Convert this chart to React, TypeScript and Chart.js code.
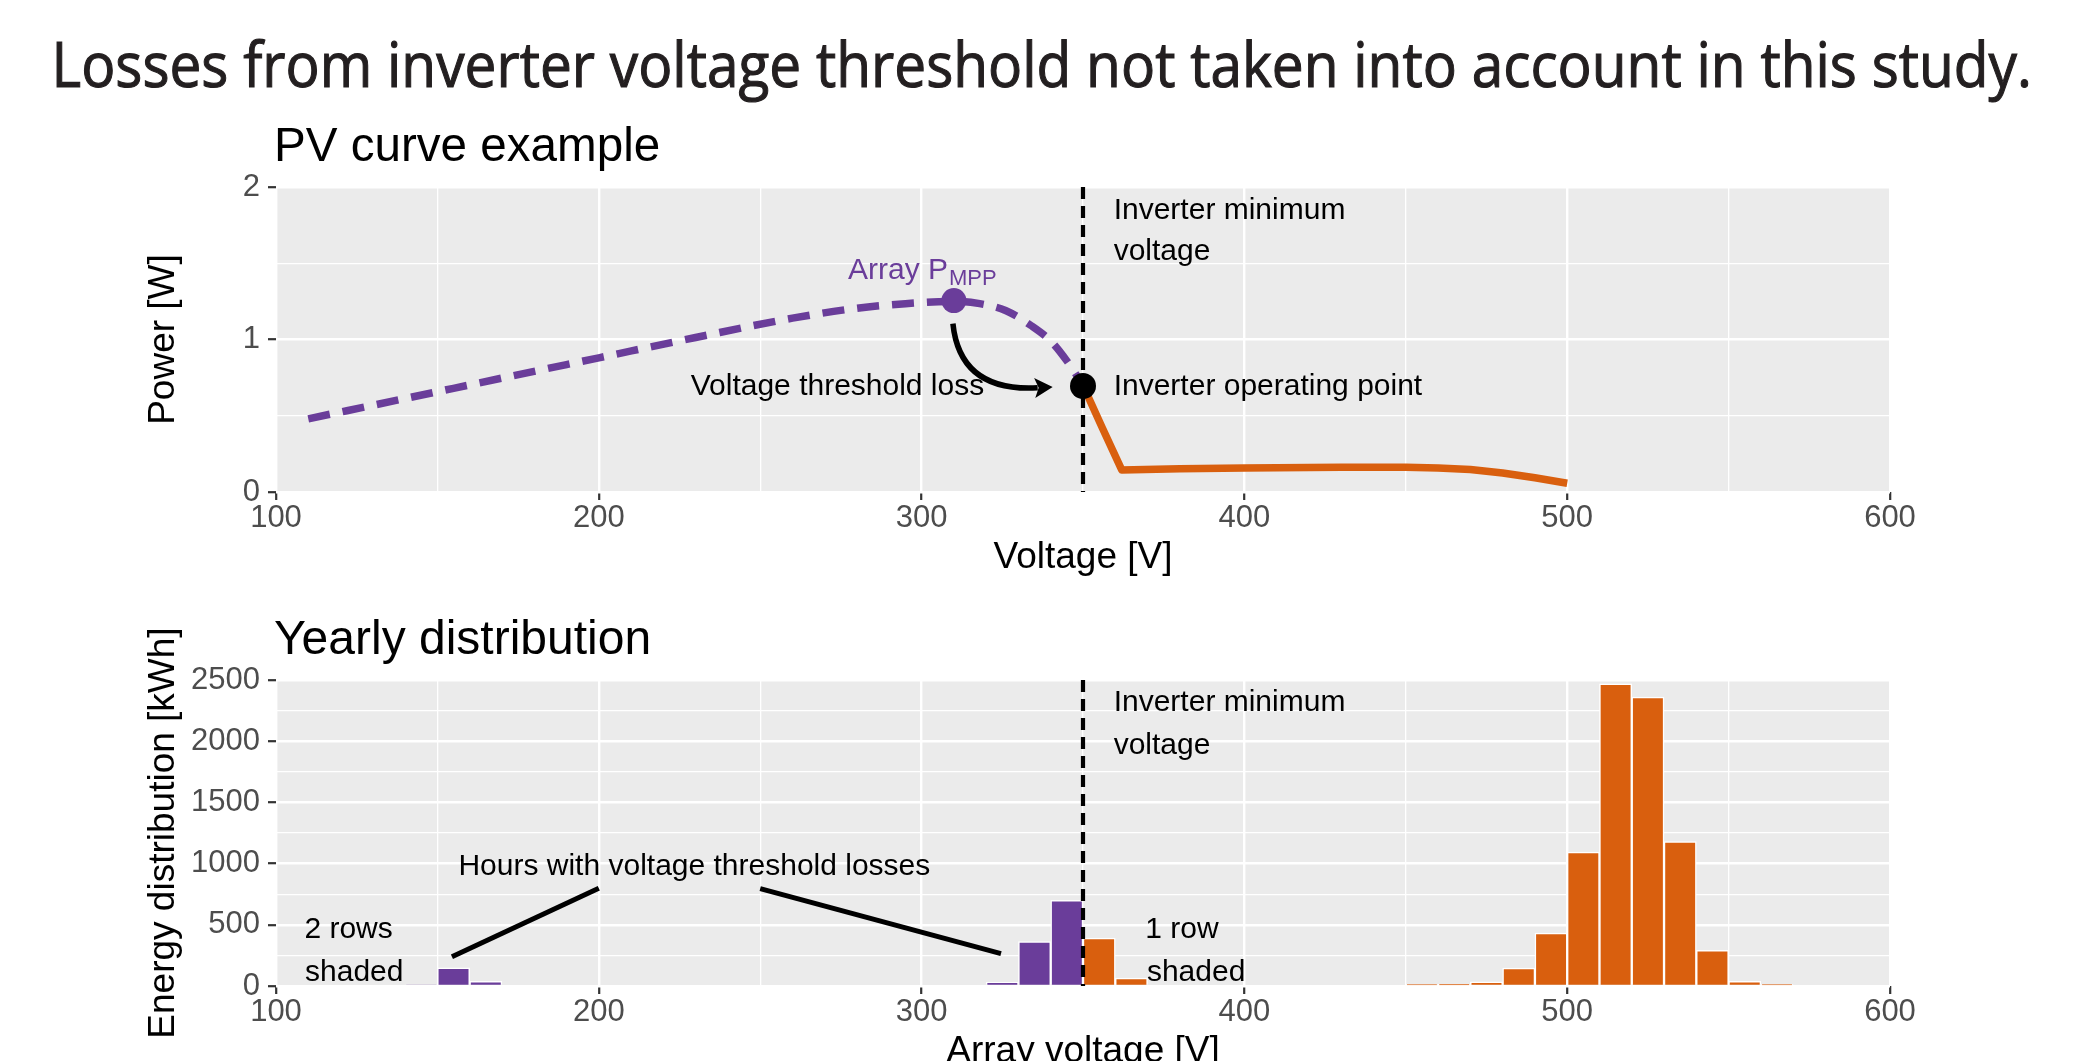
import React, { useEffect, useRef } from "react";
import { Chart, registerables } from "chart.js";

Chart.register(...registerables);

// ---------------- text ----------------
const mainTitle = "Losses from inverter voltage threshold not taken into account in this study.";
const topPanelTitle = "PV curve example";
const bottomPanelTitle = "Yearly distribution";
const topXTitle = "Voltage [V]";
const topYTitle = "Power [W]";
const bottomXTitle = "Array voltage [V]";
const bottomYTitle = "Energy distribution [kWh]";

// ---------------- tick labels ----------------
const xTickLabels = [100, 200, 300, 400, 500, 600];
const topYTickLabels = [0, 1, 2];
const bottomYTickLabels = [0, 500, 1000, 1500, 2000, 2500];

// ---------------- data: PV curve example ----------------
const inverterMinVoltage = 350;
const pvCurveVoltage = [110, 140, 170, 200, 230, 260, 280, 295, 310, 318, 326, 334, 340, 345, 350];
const pvCurvePower = [0.48, 0.613, 0.747, 0.88, 1.013, 1.14, 1.205, 1.235, 1.25, 1.235, 1.19, 1.09, 0.99, 0.86, 0.7];
const inverterCurveVoltage = [350, 356, 362, 380, 400, 430, 450, 460, 470, 480, 490, 500];
const inverterCurvePower = [0.7, 0.42, 0.145, 0.152, 0.157, 0.162, 0.163, 0.158, 0.148, 0.125, 0.093, 0.057];
const mppPoint = [310, 1.255];
const operatingPoint = [350, 0.695];

// ---------------- data: yearly distribution (10 V bins) ----------------
const binCenters = [145, 155, 165, 325, 335, 345, 355, 365, 455, 465, 475, 485, 495, 505, 515, 525, 535, 545, 555, 565];
const binEnergy = [10, 148, 38, 32, 363, 700, 392, 65, 12, 14, 35, 146, 432, 1095, 2468, 2360, 1180, 292, 38, 12];

// ---------------- annotations (data coordinates) ----------------
const topNotes = [
  { text: "Inverter minimum", x: 359.5, y: 1.847, align: "left" },
  { text: "voltage", x: 359.5, y: 1.576, align: "left" },
  { text: "Inverter operating point", x: 359.5, y: 0.687, align: "left" },
  { text: "Voltage threshold loss", x: 319.4, y: 0.687, align: "right" },
];
const mppLabel = { main: "Array P", sub: "MPP", x: 277.2, y: 1.4 };
const lossArrow = { from: [309.7, 1.104], ctrl: [311.9, 0.654], to: [340.6, 0.689] };

const bottomNotes = [
  { text: "Inverter minimum", x: 359.5, y: 2313, align: "left" },
  { text: "voltage", x: 359.5, y: 1966, align: "left" },
  { text: "Hours with voltage threshold losses", x: 229.6, y: 975, align: "center" },
  { text: "2 rows", x: 108.8, y: 458, align: "left" },
  { text: "shaded", x: 109, y: 112, align: "left" },
  { text: "1 row", x: 369.3, y: 456, align: "left" },
  { text: "shaded", x: 369.8, y: 112, align: "left" },
];
const hoursLines = [
  [[200, 798], [154.5, 239]],
  [[250, 796], [324.6, 265]],
];

// ---------------- styles ----------------
const PURPLE = "#6A3D9A";
const ORANGE = "#D95F0E";
const PANEL_BG = "#EBEBEB";
const TICK_TEXT = "#4D4D4D";
const TICK_MARK = "#333333";
const SANS = '"Liberation Sans", Arial, sans-serif';

function gridOpts(major: number[]) {
  return {
    color: "#FFFFFF",
    lineWidth: (c: any) => (c.tick && major.includes(c.tick.value) ? 2.4 : 1.3),
    drawTicks: true,
    tickLength: 8,
    tickWidth: 2.2,
    tickColor: (c: any) => (c.tick && major.includes(c.tick.value) ? TICK_MARK : "rgba(0,0,0,0)"),
  };
}

function xScale(height: number) {
  return {
    type: "linear",
    min: 100,
    max: 600,
    offset: false,
    border: { display: false },
    grid: { ...gridOpts(xTickLabels), offset: false },
    ticks: {
      stepSize: 50,
      autoSkip: false,
      maxRotation: 0,
      padding: 3,
      color: TICK_TEXT,
      font: { family: SANS, size: 31, lineHeight: 1 },
      callback: (v: any) => (xTickLabels.includes(Number(v)) ? String(v) : ""),
    },
    afterFit: (s: any) => {
      s.height = height;
    },
  };
}

function yScale(max: number, step: number, labels: number[]) {
  return {
    type: "linear",
    min: 0,
    max,
    border: { display: false },
    grid: gridOpts(labels),
    ticks: {
      stepSize: step,
      autoSkip: false,
      padding: 8,
      color: TICK_TEXT,
      font: { family: SANS, size: 31, lineHeight: 1 },
      callback: (v: any) => (labels.includes(Number(v)) ? String(v) : ""),
    },
    afterFit: (s: any) => {
      s.width = 276;
    },
  };
}

function text(ctx: CanvasRenderingContext2D, t: string, x: number, y: number, size: number, color: string, align: any = "left", baseline: any = "middle") {
  ctx.save();
  ctx.font = `${size}px ${SANS}`;
  ctx.fillStyle = color;
  ctx.textAlign = align;
  ctx.textBaseline = baseline;
  ctx.fillText(t, x, y);
  ctx.restore();
}

function axisTitles(chart: any, xt: string, yt: string) {
  const { ctx, chartArea: a } = chart;
  text(ctx, xt, (a.left + a.right) / 2, a.bottom + 66, 37, "#000", "center");
  ctx.save();
  ctx.translate(164, (a.top + a.bottom) / 2);
  ctx.rotate(-Math.PI / 2);
  text(ctx, yt, 0, 0, 37, "#000", "center");
  ctx.restore();
}

const panelBg = {
  id: "panelBg",
  beforeDraw(chart: any) {
    const { ctx, chartArea: a } = chart;
    ctx.save();
    ctx.fillStyle = PANEL_BG;
    ctx.fillRect(a.left, a.top, a.right - a.left, a.bottom - a.top);
    ctx.restore();
  },
};

const topDecor = {
  id: "topDecor",
  afterDraw(chart: any) {
    const { ctx, chartArea: a, scales } = chart;
    const X = (v: number) => scales.x.getPixelForValue(v);
    const Y = (v: number) => scales.y.getPixelForValue(v);

    // main title (condensed to match width)
    ctx.save();
    ctx.font = `62px "Open Sans", sans-serif`;
    ctx.textAlign = "left";
    ctx.textBaseline = "alphabetic";
    const m = ctx.measureText(mainTitle);
    const inkL = -m.actualBoundingBoxLeft;
    const inkW = m.actualBoundingBoxRight - inkL;
    const s = 1971 / inkW;
    ctx.translate(57 - inkL * s, 87);
    ctx.scale(s, 1);
    ctx.fillStyle = "#231F20";
    ctx.strokeStyle = "#231F20";
    ctx.lineWidth = 1.1;
    ctx.fillText(mainTitle, 0, 0);
    ctx.strokeText(mainTitle, 0, 0);
    ctx.restore();

    text(ctx, topPanelTitle, a.left - 2, a.top - 26.4, 47.6, "#000", "left", "alphabetic");
    axisTitles(chart, topXTitle, topYTitle);

    topNotes.forEach((n) => text(ctx, n.text, X(n.x), Y(n.y), 30, "#000", n.align));

    // Array P_MPP label
    ctx.save();
    ctx.font = `30px ${SANS}`;
    const wMain = ctx.measureText(mppLabel.main).width;
    ctx.restore();
    text(ctx, mppLabel.main, X(mppLabel.x), Y(mppLabel.y), 30, PURPLE, "left", "alphabetic");
    text(ctx, mppLabel.sub, X(mppLabel.x) + wMain + 1, Y(mppLabel.y) + 6, 22, PURPLE, "left", "alphabetic");

    // curved arrow
    const p0 = [X(lossArrow.from[0]), Y(lossArrow.from[1])];
    const pc = [X(lossArrow.ctrl[0]), Y(lossArrow.ctrl[1])];
    const p2 = [X(lossArrow.to[0]), Y(lossArrow.to[1])];
    const ang = Math.atan2(p2[1] - pc[1], p2[0] - pc[0]);
    const headLen = 18;
    const headW = 10;
    const base = [p2[0] - headLen * Math.cos(ang), p2[1] - headLen * Math.sin(ang)];
    ctx.save();
    ctx.strokeStyle = "#000";
    ctx.fillStyle = "#000";
    ctx.lineWidth = 5.5;
    ctx.lineCap = "butt";
    ctx.beginPath();
    ctx.moveTo(p0[0], p0[1]);
    ctx.quadraticCurveTo(pc[0], pc[1], base[0] + 3 * Math.cos(ang), base[1] + 3 * Math.sin(ang));
    ctx.stroke();
    ctx.beginPath();
    ctx.moveTo(p2[0], p2[1]);
    ctx.lineTo(base[0] - headW * Math.sin(ang), base[1] + headW * Math.cos(ang));
    ctx.lineTo(base[0] + 4 * Math.cos(ang), base[1] + 4 * Math.sin(ang));
    ctx.lineTo(base[0] + headW * Math.sin(ang), base[1] - headW * Math.cos(ang));
    ctx.closePath();
    ctx.fill();
    ctx.restore();
  },
};

const bottomDecor = {
  id: "bottomDecor",
  afterDraw(chart: any) {
    const { ctx, chartArea: a, scales } = chart;
    const X = (v: number) => scales.x.getPixelForValue(v);
    const Y = (v: number) => scales.y.getPixelForValue(v);
    text(ctx, bottomPanelTitle, a.left - 2, a.top - 26.4, 48, "#000", "left", "alphabetic");
    axisTitles(chart, bottomXTitle, bottomYTitle);
    bottomNotes.forEach((n) => text(ctx, n.text, X(n.x), Y(n.y), 30, "#000", n.align));
    ctx.save();
    ctx.strokeStyle = "#000";
    ctx.lineWidth = 5;
    hoursLines.forEach(([p, q]) => {
      ctx.beginPath();
      ctx.moveTo(X(p[0]), Y(p[1]));
      ctx.lineTo(X(q[0]), Y(q[1]));
      ctx.stroke();
    });
    ctx.restore();
  },
};

const vline = (top: number) => ({
  type: "line",
  label: "Inverter minimum voltage",
  data: [
    { x: inverterMinVoltage, y: top },
    { x: inverterMinVoltage, y: 0 },
  ],
  borderColor: "#000",
  borderWidth: 4.2,
  borderDash: [12, 7],
  pointRadius: 0,
  fill: false,
  order: 1,
});

const W = 2099;

export default function App() {
  const topRef = useRef<HTMLCanvasElement>(null);
  const botRef = useRef<HTMLCanvasElement>(null);

  useEffect(() => {
    const common = {
      animation: false,
      responsive: false,
      maintainAspectRatio: false,
      devicePixelRatio: 1,
      events: [],
      plugins: { legend: { display: false }, tooltip: { enabled: false }, title: { display: false } },
    };

    const top = new Chart(topRef.current as HTMLCanvasElement, {
      type: "line",
      data: {
        datasets: [
          {
            label: "PV curve",
            data: pvCurveVoltage.map((v, i) => ({ x: v, y: pvCurvePower[i] })),
            borderColor: PURPLE,
            borderWidth: 7.5,
            borderDash: [22, 13],
            borderCapStyle: "butt",
            pointRadius: 0,
            cubicInterpolationMode: "monotone",
            fill: false,
            order: 5,
          },
          {
            label: "Inverter curve",
            data: inverterCurveVoltage.map((v, i) => ({ x: v, y: inverterCurvePower[i] })),
            borderColor: ORANGE,
            borderWidth: 7.5,
            borderJoinStyle: "round",
            pointRadius: 0,
            tension: 0,
            fill: false,
            order: 4,
          },
          { ...vline(2), order: 3 },
          {
            label: "Array PMPP",
            data: [{ x: mppPoint[0], y: mppPoint[1] }],
            showLine: false,
            pointRadius: 12.5,
            pointBackgroundColor: PURPLE,
            pointBorderColor: PURPLE,
            pointBorderWidth: 0,
            order: 1,
          },
          {
            label: "Inverter operating point",
            data: [{ x: operatingPoint[0], y: operatingPoint[1] }],
            showLine: false,
            pointRadius: 13,
            pointBackgroundColor: "#000",
            pointBorderColor: "#000",
            pointBorderWidth: 0,
            order: 1,
          },
        ],
      } as any,
      options: {
        ...common,
        layout: { padding: { left: 0, top: 187, right: 209, bottom: 0 } },
        scales: { x: xScale(88), y: yScale(2, 0.5, topYTickLabels) },
      } as any,
      plugins: [panelBg, topDecor],
    });

    const bottom = new Chart(botRef.current as HTMLCanvasElement, {
      type: "bar",
      data: {
        datasets: [
          {
            type: "bar",
            label: "Energy distribution",
            data: binCenters.map((c, i) => ({ x: c, y: binEnergy[i] })),
            backgroundColor: binCenters.map((c) => (c < inverterMinVoltage ? PURPLE : ORANGE)),
            borderColor: "#FFFFFF",
            borderWidth: 1.5,
            borderSkipped: "start",
            barPercentage: 1,
            categoryPercentage: 1,
            order: 2,
          },
          vline(2500),
        ],
      } as any,
      options: {
        ...common,
        layout: { padding: { left: 0, top: 100, right: 209, bottom: 6 } },
        scales: { x: xScale(88), y: yScale(2500, 250, bottomYTickLabels) },
      } as any,
      plugins: [panelBg, bottomDecor],
    });

    return () => {
      top.destroy();
      bottom.destroy();
    };
  }, []);

  return (
    <div
      style={{
        position: "fixed",
        left: 0,
        top: 0,
        width: W,
        height: 1061,
        overflow: "hidden",
        background: "#fff",
      }}
    >
      <canvas ref={topRef} width={W} height={580} style={{ position: "absolute", left: 0, top: 0, width: W, height: 580 }} />
      <canvas ref={botRef} width={W} height={500} style={{ position: "absolute", left: 0, top: 580, width: W, height: 500 }} />
    </div>
  );
}
